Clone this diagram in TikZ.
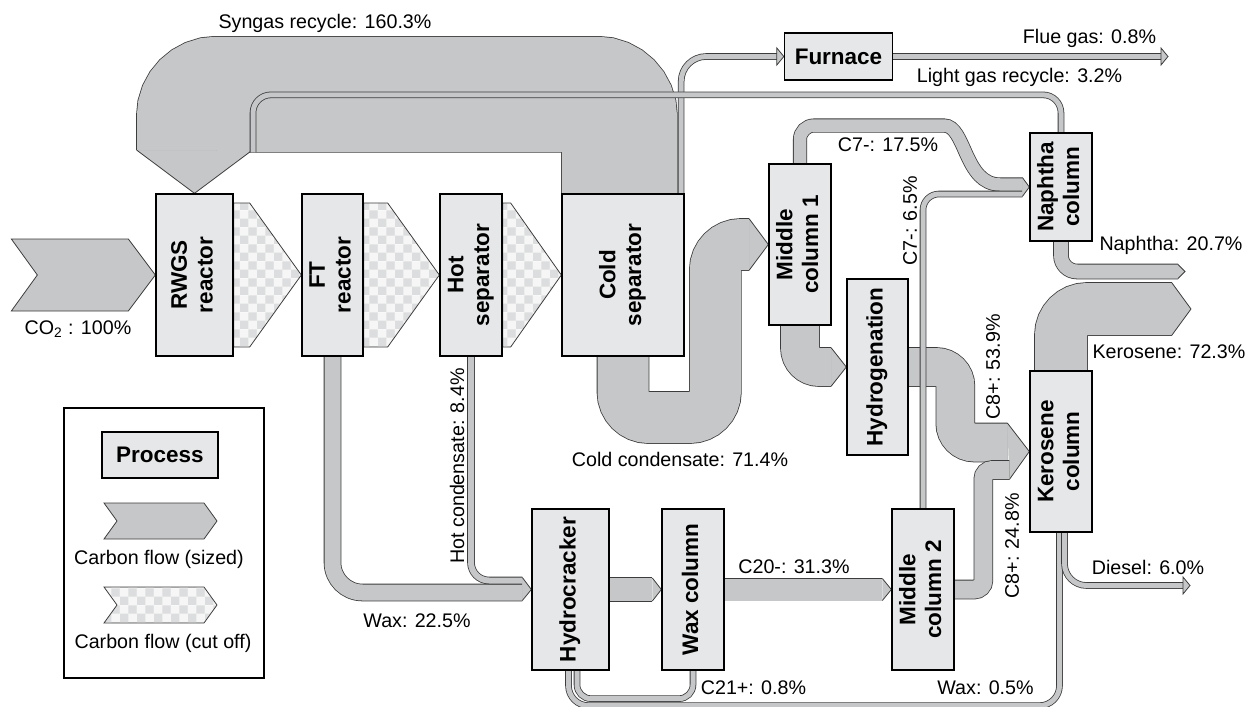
\documentclass[tikz,border=0pt]{standalone}
\usepackage{fontspec}
\setmainfont{Liberation Sans}
\usepackage{graphicx}
\usetikzlibrary{calc, backgrounds, patterns.meta}

\definecolor{boxc}{HTML}{E6E7E8}
\definecolor{flowc}{HTML}{C6C7C8}
\definecolor{edgec}{HTML}{3C3C3C}
\definecolor{cutlight}{HTML}{F6F6F6}
\definecolor{cutdark}{HTML}{DCDDDE}

\newlength{\unitpx}
\setlength{\unitpx}{0.02cm}

\newcommand{\vlabel}[1]{\rotatebox{90}{\begin{tabular}{@{}c@{}}#1\end{tabular}}}

\tikzdeclarepattern{
  name=cutoff,
  type=colored,
  bounding box={(0pt,0pt) and (9.8pt,9.8pt)},
  tile size={(9.8pt,9.8pt)},
  code={
    \fill[cutlight] (0pt,0pt) rectangle (9.8pt,9.8pt);
    \fill[cutdark] (0pt,0pt) rectangle (4.9pt,4.9pt);
    \fill[cutdark] (4.9pt,4.9pt) rectangle (9.8pt,9.8pt);
  }
}

\begin{document}
\begin{tikzpicture}[
    x=\unitpx, y=-\unitpx,
    unit/.style={draw=black, line width=0.75pt, fill=boxc, inner sep=0pt,
        font=\bfseries\fontsize{12.8}{14.7}\selectfont, align=center},
    lbl/.style={inner sep=0pt, font=\fontsize{11.2}{13.4}\selectfont},
    flow/.style={draw=edgec, line width=0.45pt, double=flowc, double distance=#1\unitpx},
    tip/.style={fill=flowc, draw=edgec, line width=0.45pt},
    cut/.style={pattern=cutoff, draw=edgec, line width=0.45pt}
]
\useasboundingbox (0,0) rectangle (1245,707);

% --- Process units ---
\node[unit, minimum width=77\unitpx, minimum height=162\unitpx] (rwgs) at (194.5,275) {\vlabel{RWGS\\reactor}};
\node[unit, minimum width=61\unitpx, minimum height=162\unitpx] (ft) at (332.5,275) {\vlabel{FT\\reactor}};
\node[unit, minimum width=62\unitpx, minimum height=162\unitpx] (hot) at (471,275) {\vlabel{Hot\\separator}};
\node[unit, minimum width=122\unitpx, minimum height=162\unitpx] (cold) at (623,275) {\vlabel{Cold\\separator}};
\node[unit, minimum width=108\unitpx, minimum height=47\unitpx] (furn) at (838.5,56.5) {Furnace};
\node[unit, minimum width=62\unitpx, minimum height=161\unitpx] (mid1) at (800,244.5) {\vlabel{Middle\\column 1}};
\node[unit, minimum width=62\unitpx, minimum height=108\unitpx] (naph) at (1061,187) {\vlabel{Naphtha\\column}};
\node[unit, minimum width=61\unitpx, minimum height=176\unitpx] (hydro) at (877.5,367) {\vlabel{Hydrogenation}};
\node[unit, minimum width=62\unitpx, minimum height=161\unitpx] (kero) at (1061,451.5) {\vlabel{Kerosene\\column}};
\node[unit, minimum width=62\unitpx, minimum height=161\unitpx] (mid2) at (923,589.5) {\vlabel{Middle\\column 2}};
\node[unit, minimum width=77\unitpx, minimum height=161\unitpx] (hcr) at (570.5,589.5) {\vlabel{Hydrocracker}};
\node[unit, minimum width=62\unitpx, minimum height=161\unitpx] (waxc) at (693,589.5) {\vlabel{Wax column}};

\coordinate (flueend) at (1168,56.5);
\coordinate (naphout) at (1185,271.5);
\coordinate (keroout) at (1191,309);
\coordinate (dieselend) at (1190,585.5);

% --- Carbon flows ---
\begin{scope}[on background layer]
    % Recycles over the top
    \draw[flow=115, rounded corners=22\unitpx] ($(cold.north west)+(58,0)$) -- ++(0,-99) -| ($(rwgs.north)+(0,-43)$);
    \filldraw[tip] ($(rwgs.north)+(-57.5,-43)$) -- (rwgs.north) -- ($(rwgs.north)+(57.5,-43)$);
    \draw[flow=5, rounded corners=25\unitpx] ($(cold.north east)+(-3.5,0)$) |- ($(furn.west)+(-7,0)$);
    \filldraw[tip] ($(furn.west)+(-7,-8.5)$) -- (furn.west) -- ($(furn.west)+(-7,8.5)$) -- cycle;
    \draw[flow=5] (furn.east) -- ($(flueend)+(-7,0)$);
    \filldraw[tip] ($(flueend)+(-7,-8.5)$) -- (flueend) -- ($(flueend)+(-7,8.5)$) -- cycle;
    \draw[flow=5, rounded corners=18\unitpx] (naph.north) |- ($(rwgs.north)+(58.5,-98.5)$) -- ($(rwgs.north)+(58.5,-41)$);

    % Main line
    \draw[tip] ($(rwgs.west)+(-144,-36)$) -- ++(117,0) -- (rwgs.west) -- ++(-27,36) -- ++(-117,0) -- ++(26,-36) -- cycle;
    \draw[cut] ($(rwgs.east)+(0,-72)$) -- ++(16,0) -- (ft.west) -- ($(rwgs.east)+(16,72)$) -- ++(-16,0) -- cycle;
    \draw[cut] ($(ft.east)+(0,-72)$) -- ++(24,0) -- (hot.west) -- ($(ft.east)+(24,72)$) -- ++(-24,0) -- cycle;
    \draw[cut] ($(hot.east)+(0,-72)$) -- ++(8,0) -- (cold.west) -- ($(hot.east)+(8,72)$) -- ++(-8,0) -- cycle;

    % Cold condensate
    \draw[flow=51, rounded corners=25.5\unitpx] (cold.south) |- ($(mid1.west)+(-53,173)$) |- ($(mid1.west)+(-19,0)$);
    \filldraw[tip] ($(mid1.west)+(-19,-25.5)$) -- (mid1.west) -- ($(mid1.west)+(-19,25.5)$);
    \draw[flow=38, rounded corners=19\unitpx] (mid1.south) |- ($(hydro.west)+(-15,0)$);
    \filldraw[tip] ($(hydro.west)+(-15,-19)$) -- (hydro.west) -- ($(hydro.west)+(-15,19)$);

    % To kerosene column
    \draw[flow=38, rounded corners=19\unitpx] (hydro.east) -| ($(kero.west)+(-74,-9)$) -- ($(kero.west)+(-22,-9)$);
    \filldraw[tip] ($(kero.west)+(-22,-28.5)$) -- (kero.west) -- ($(kero.west)+(-20,28)$);
    \draw[flow=18, rounded corners=9\unitpx] (mid2.east) -| ($(kero.west)+(-46,18.5)$) -- ($(kero.west)+(-20,18.5)$);

    % To naphtha column
    \draw[flow=12.5] [rounded corners=14\unitpx] (mid1.north) |- (930,125.5) [sharp corners] to[out=0, in=180] (1000,184.5) -- ($(naph.west)+(-7,-2.5)$);
    \draw[flow=5, rounded corners=16\unitpx] (mid2.north) |- ($(naph.west)+(-7,7)$);
    \filldraw[tip] ($(naph.west)+(-7,-9.5)$) -- (naph.west) -- ($(naph.west)+(-7,9.5)$);

    % Products
    \draw[flow=14, rounded corners=16\unitpx] (naph.south) |- ($(naphout)+(-7,0)$);
    \filldraw[tip] ($(naphout)+(-7,-7)$) -- (naphout) -- ($(naphout)+(-7,7)$);
    \draw[flow=52, rounded corners=26\unitpx] (kero.north) |- ($(keroout)+(-19,0)$);
    \filldraw[tip] ($(keroout)+(-19,-26)$) -- (keroout) -- ($(keroout)+(-19,26)$);
    \draw[flow=5, rounded corners=20\unitpx] ($(kero.south)+(-1.5,0)$) |- ($(hcr.south)+(-2,35)$) -- ($(hcr.south)+(-2,0)$);
    \draw[flow=5, rounded corners=22\unitpx] ($(kero.south)+(3.5,0)$) |- ($(dieselend)+(-7,0)$);
    \filldraw[tip] ($(dieselend)+(-7,-8.5)$) -- (dieselend) -- ($(dieselend)+(-7,8.5)$) -- cycle;

    % Wax train
    \draw[flow=5, rounded corners=14\unitpx] (waxc.south) |- ($(hcr.south)+(6.5,28)$) -- ($(hcr.south)+(6.5,0)$);
    \draw[flow=16, rounded corners=30\unitpx] (ft.south) |- ($(hcr.west)+(-9,3)$);
    \draw[flow=6, rounded corners=18\unitpx] (hot.south) |- ($(hcr.west)+(-9,-9)$);
    \filldraw[tip] ($(hcr.west)+(-9,-12)$) -- (hcr.west) -- ($(hcr.west)+(-9,11)$);
    \draw[flow=23] (hcr.east) -- ($(waxc.west)+(-9,0)$);
    \filldraw[tip] ($(waxc.west)+(-9,-11.5)$) -- (waxc.west) -- ($(waxc.west)+(-9,11.5)$);
    \draw[flow=22] (waxc.east) -- ($(mid2.west)+(-9,0)$);
    \filldraw[tip] ($(mid2.west)+(-9,-11)$) -- (mid2.west) -- ($(mid2.west)+(-9,11)$);
\end{scope}

% --- Flow labels ---
\node[lbl] (lsyn) at (325,23) {Syngas recycle: 160.3\%};
\node[lbl] (lflue) at (1089.5,38) {Flue gas: 0.8\%};
\node[lbl] (llight) at (1019.5,77) {Light gas recycle: 3.2\%};
\node[lbl] (lco) at (78,329) {CO\textsubscript{2} : 100\%};
\node[lbl] (lc7a) at (888,145) {C7-: 17.5\%};
\node[lbl, rotate=90] (lc7b) at (910,221) {C7-: 6.5\%};
\node[lbl] (lnaph) at (1171,245) {Naphtha: 20.7\%};
\node[lbl] (lkero) at (1169,352) {Kerosene: 72.3\%};
\node[lbl, rotate=90] (lc8a) at (993,367) {C8+: 53.9\%};
\node[lbl, rotate=90] (lhot) at (457,466) {Hot condensate: 8.4\%};
\node[lbl] (lcold) at (680,459) {Cold condensate: 71.4\%};
\node[lbl, rotate=90] (lc8b) at (1012,546) {C8+: 24.8\%};
\node[lbl] (lc20) at (794,567) {C20-: 31.3\%};
\node[lbl] (ldiesel) at (1148,567) {Diesel: 6.0\%};
\node[lbl] (lwaxa) at (417,621) {Wax: 22.5\%};
\node[lbl] (lc21) at (753.5,688) {C21+: 0.8\%};
\node[lbl] (lwaxb) at (985.5,688) {Wax: 0.5\%};

% --- Legend ---
\node[draw=black, line width=0.7pt, minimum width=200\unitpx, minimum height=270\unitpx] (legend) at (164,543) {};
\node[unit, minimum width=116\unitpx, minimum height=46\unitpx] (proc) at (160,455) {Process};
\draw[tip] (104,503) -- (204,503) -- (217,521) -- (204,539) -- (104,539) -- (117,521) -- cycle;
\node[lbl] (lsized) at (159,559) {Carbon flow (sized)};
\draw[cut] (104,587) -- (204,587) -- (217,605) -- (204,623) -- (104,623) -- (117,605) -- cycle;
\node[lbl] (lcut) at (163,643) {Carbon flow (cut off)};

\end{tikzpicture}
\end{document}
